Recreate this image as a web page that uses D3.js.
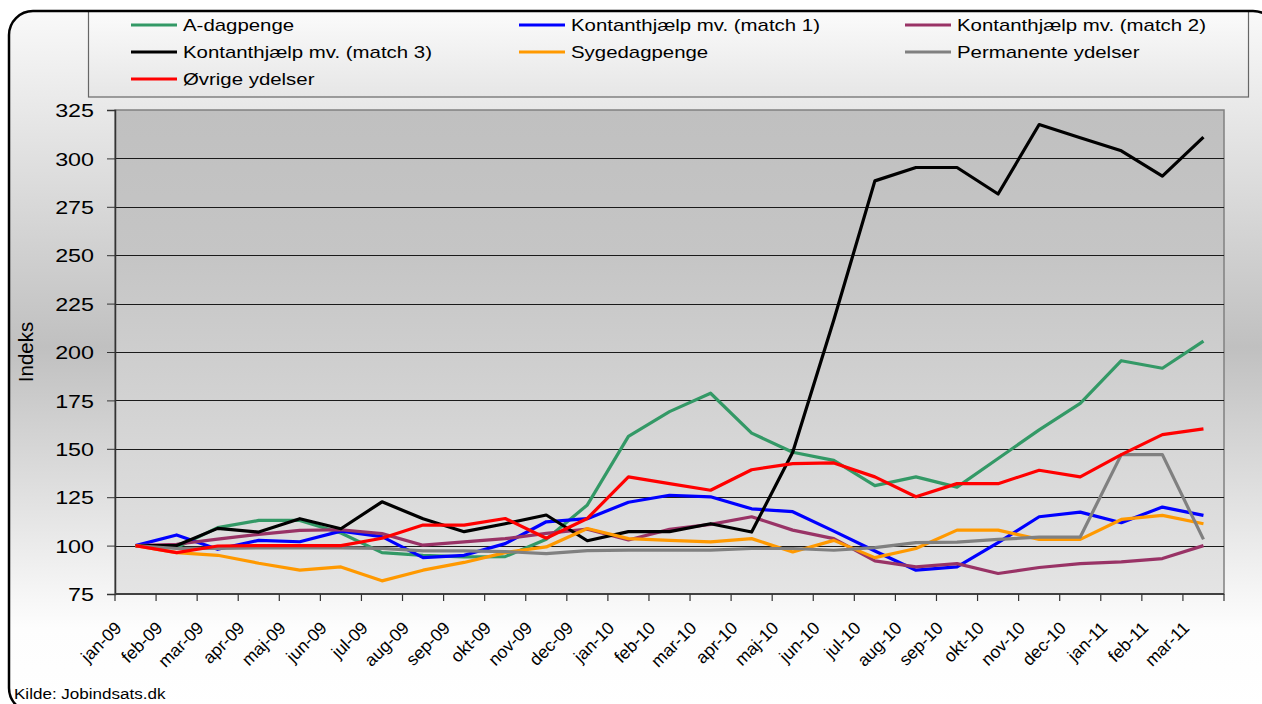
<!DOCTYPE html>
<html>
<head>
<meta charset="utf-8">
<script src="https://cdn.jsdelivr.net/npm/d3@7"></script>
<style>
    body { margin: 0; background: #fff; }
    svg { display: block; }
    text { font-family: "Liberation Sans", Arial, sans-serif; fill: #000; }
</style>
</head>
<body>
<svg width="1262" height="704"></svg>
<script>
var months = ["jan-09", "feb-09", "mar-09", "apr-09", "maj-09", "jun-09", "jul-09", "aug-09", "sep-09", "okt-09", "nov-09", "dec-09",
    "jan-10", "feb-10", "mar-10", "apr-10", "maj-10", "jun-10", "jul-10", "aug-10", "sep-10", "okt-10", "nov-10", "dec-10",
    "jan-11", "feb-11", "mar-11"];

var aDagpenge = [100, 99, 109.3, 113, 113, 106.5, 96.4, 95, 94.2, 94.3, 103.3, 121, 156.4, 169.2, 178.7, 158.1, 148.2, 144, 131, 135.5, 130.2, 145, 159.8, 173.5, 195.5, 191.6, 205.6];
var kontant1 = [100, 105.5, 98.1, 102.7, 102, 107.5, 104.6, 93.8, 95, 101, 112.3, 113.9, 122.4, 126, 125.2, 119, 117.5, 107.5, 97.2, 87.3, 89, 101.5, 114.9, 117.3, 111.8, 119.9, 115.6];
var kontant2 = [100, 100.7, 103.3, 105.8, 107.9, 108.2, 106.2, 100.2, 101.9, 103.6, 106.3, 108.5, 102.9, 108.4, 111, 114.9, 108, 103.6, 92.1, 89, 90.7, 85.6, 88.7, 90.7, 91.6, 93.3, 100];
var kontant3 = [100, 100, 108.9, 107, 113.9, 108.7, 122.6, 113.9, 107.2, 111.3, 115.8, 102.5, 107.2, 107.2, 111.3, 107, 148.2, 216.5, 288.4, 295.3, 295.3, 281.6, 317.5, 310.7, 303.9, 290.8, 311];
var sygedagpenge = [100, 96.4, 95, 90.9, 87.3, 89, 81.8, 87.3, 91.3, 96.4, 99.3, 108.8, 103.6, 102.7, 101.9, 103.6, 96.7, 102.7, 93.8, 98.5, 108, 108, 103.2, 103.2, 113.5, 115.6, 111.3];
var permanente = [100, 98.5, 98.6, 98.8, 98.8, 98.8, 98.6, 97.3, 97.3, 96.9, 95.9, 97.4, 97.7, 97.7, 97.7, 98.5, 98.5, 97.6, 99, 101.5, 101.8, 103.2, 104.4, 104.4, 147, 147, 103.2];
var ovrige = [100, 96.4, 99.8, 100, 100, 100, 103.8, 110.6, 110.6, 114, 103.8, 114, 135.5, 132, 128.6, 139.2, 142.3, 142.7, 135.5, 125.2, 132, 132, 138.9, 135.5, 147, 157.3, 160.3];

var yTicks = [75, 100, 125, 150, 175, 200, 225, 250, 275, 300, 325];

var series = [
    { name: "A-dagpenge", values: aDagpenge, color: "#339966" },
    { name: "Kontanthjælp mv. (match 1)", values: kontant1, color: "#0000ff" },
    { name: "Kontanthjælp mv. (match 2)", values: kontant2, color: "#993366" },
    { name: "Kontanthjælp mv. (match 3)", values: kontant3, color: "#000000" },
    { name: "Sygedagpenge", values: sygedagpenge, color: "#ff9900" },
    { name: "Permanente ydelser", values: permanente, color: "#808080" },
    { name: "Øvrige ydelser", values: ovrige, color: "#ff0000" }
];

var width = 1262;
var height = 704;
var plot = { left: 115, top: 110, right: 1224, bottom: 594 };
var stretch = 1.26; // tekst i originalen er bred

var svg = d3.select("svg").attr("width", width).attr("height", height);
var defs = svg.append("defs");

function gradient(id, stops) {
    var g = defs.append("linearGradient").attr("id", id)
        .attr("x1", 0).attr("y1", 0).attr("x2", 0).attr("y2", 1);
    stops.forEach(function (s) {
        g.append("stop").attr("offset", s[0]).attr("stop-color", s[1]);
    });
}
gradient("frameBg", [[0, "#f9f9f9"], [0.48, "#c0c0c0"], [0.88, "#fdfdfd"], [1, "#ffffff"]]);
gradient("plotBg", [[0, "#c0c0c0"], [0.3, "#c5c5c5"], [1, "#e4e4e4"]]);
gradient("legendBg", [[0, "#fbfbfb"], [1, "#e6e6e6"]]);

var frame = { x: 9, y: 11, w: 1268, h: 701, r: 24 };

// ramme
svg.append("rect")
    .attr("x", frame.x).attr("y", frame.y).attr("width", frame.w).attr("height", frame.h).attr("rx", frame.r)
    .attr("fill", "url(#frameBg)");

var x = d3.scaleBand().domain(months).range([plot.left, plot.right]).padding(0);
var y = d3.scaleLinear().domain([75, 325]).range([plot.bottom, plot.top]);
var bw = x.bandwidth();

svg.append("rect")
    .attr("x", plot.left).attr("y", plot.top)
    .attr("width", plot.right - plot.left).attr("height", plot.bottom - plot.top)
    .attr("fill", "url(#plotBg)")
    .attr("stroke", "#808080").attr("stroke-width", 1.5);

// gitterlinjer
svg.selectAll(".grid")
    .data(yTicks.filter(function (t) { return t > 75 && t < 325; }))
    .enter()
    .append("line")
    .attr("class", "grid")
    .attr("x1", plot.left).attr("x2", plot.right)
    .attr("y1", function (d) { return Math.round(y(d)) + 0.5; })
    .attr("y2", function (d) { return Math.round(y(d)) + 0.5; })
    .attr("stroke", "#1a1a1a").attr("stroke-width", 1);

// y-akse
var yAxis = svg.append("g")
    .attr("transform", "translate(" + plot.left + ",0)")
    .call(d3.axisLeft(y).tickValues(yTicks).tickSize(8).tickPadding(0));
yAxis.select(".domain").attr("stroke", "#333").attr("stroke-width", 1.5);
yAxis.selectAll(".tick line").attr("stroke", "#333");
yAxis.selectAll(".tick text")
    .attr("x", null).attr("dy", "0.36em")
    .attr("transform", "translate(-21,0) scale(" + stretch + ",1)")
    .style("font-size", "18.5px")
    .style("font-family", '"Liberation Sans", Arial, sans-serif');

// x-akse
var xAxis = svg.append("g").attr("transform", "translate(0," + plot.bottom + ")");
xAxis.append("line")
    .attr("x1", plot.left).attr("x2", plot.right)
    .attr("stroke", "#404040").attr("stroke-width", 2);
xAxis.selectAll(".xtick")
    .data(months.concat(["end"]))
    .enter()
    .append("line")
    .attr("class", "xtick")
    .attr("x1", function (d, i) { return i < months.length ? x(d) : plot.right; })
    .attr("x2", function (d, i) { return i < months.length ? x(d) : plot.right; })
    .attr("y1", 0).attr("y2", 7)
    .attr("stroke", "#333").attr("stroke-width", 1.2);
xAxis.selectAll(".xlabel")
    .data(months)
    .enter()
    .append("text")
    .attr("class", "xlabel")
    .attr("text-anchor", "end")
    .attr("transform", function (d) {
        return "translate(" + (x(d) + bw / 2 - 13) + ",35) rotate(-45)";
    })
    .style("font-size", "17.5px")
    .text(function (d) { return d; });

// aksetitel
svg.append("text")
    .attr("transform", "translate(33,352) rotate(-90)")
    .attr("text-anchor", "middle")
    .style("font-size", "20.5px")
    .text("Indeks");

// linjer
var line = d3.line()
    .x(function (d, i) { return x(months[i]) + bw / 2; })
    .y(function (d) { return y(d); });

svg.selectAll(".serie")
    .data(series)
    .enter()
    .append("path")
    .attr("class", "serie")
    .attr("d", function (d) { return line(d.values); })
    .attr("fill", "none")
    .attr("stroke", function (d) { return d.color; })
    .attr("stroke-width", 3.2)
    .attr("stroke-linejoin", "round");

// forklaring
svg.append("rect")
    .attr("x", 88.5).attr("y", 11).attr("width", 1160).attr("height", 86)
    .attr("fill", "url(#legendBg)")
    .attr("stroke", "#666").attr("stroke-width", 1.2);

var legendCols = [131, 519, 905];
var legendRows = [25, 52, 79];
var item = svg.selectAll(".legend")
    .data(series)
    .enter()
    .append("g")
    .attr("class", "legend")
    .attr("transform", function (d, i) {
        return "translate(" + legendCols[i % 3] + "," + legendRows[Math.floor(i / 3)] + ")";
    });
item.append("line")
    .attr("x1", 0).attr("x2", 46)
    .attr("stroke", function (d) { return d.color; })
    .attr("stroke-width", 3);
item.append("text")
    .attr("dy", "0.36em")
    .attr("transform", "translate(52,0) scale(" + stretch + ",1)")
    .style("font-size", "16.2px")
    .text(function (d) { return d.name; });

// kilde
svg.append("text")
    .attr("transform", "translate(14,699) scale(1.1,1)")
    .style("font-size", "15.5px")
    .text("Kilde: Jobindsats.dk");

// rammens kant
svg.append("rect")
    .attr("x", frame.x).attr("y", frame.y).attr("width", frame.w).attr("height", frame.h).attr("rx", frame.r)
    .attr("fill", "none")
    .attr("stroke", "#000").attr("stroke-width", 2.5);
</script>
</body>
</html>
